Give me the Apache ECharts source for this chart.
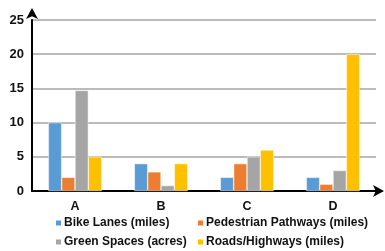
<!DOCTYPE html>
<html><head><meta charset="utf-8">
<script src="https://cdn.jsdelivr.net/npm/echarts@6/dist/echarts.min.js"></script>
<style>html,body{margin:0;padding:0;background:#fff}#c{width:385px;height:251px}</style>
</head><body><div id="c"></div>
<script>
const categories = ['A','B','C','D'];
const seriesNames = ['Bike Lanes (miles)','Pedestrian Pathways (miles)','Green Spaces (acres)','Roads/Highways (miles)'];
const bikeLanes = [10, 4, 2, 2];
const pedestrian = [2, 2.8, 4, 1];
const greenSpaces = [14.7, 0.8, 5, 3];
const roads = [5, 4, 6, 20];
const colors = ['#5B9BD5','#ED7D31','#A5A5A5','#FFC000'];
const values = [bikeLanes, pedestrian, greenSpaces, roads];

const font = 'Liberation Sans, Arial, sans-serif';
const legendPos = [[54,217],[196,217],[54,236],[196,236]];
const chart = echarts.init(document.getElementById('c'), null, {renderer:'canvas'});
chart.setOption({
  animation:false,
  grid:{left:32,right:9,top:20,bottom:60,containLabel:false},
  legend: seriesNames.map((n,i)=>({
    data:[n], left:legendPos[i][0], top:legendPos[i][1], padding:0, itemWidth:7, itemHeight:7, itemGap:2,
    icon:'rect', textStyle:{fontFamily:font, fontWeight:'bold', fontSize:12, color:'#111', padding:[0,0,0,-3]}
  })),
  xAxis:{type:'category', data:categories,
    axisLine:{lineStyle:{color:'#000',width:2}, symbol:['none','arrow'], symbolSize:[9,11], symbolOffset:[0,8]},
    axisTick:{show:false},
    axisLabel:{fontFamily:font, fontWeight:'bold', fontSize:12.5, color:'#111', margin:9}
  },
  yAxis:{type:'value', min:0, max:25, interval:5,
    axisLine:{show:true, lineStyle:{color:'#000',width:2}, symbol:['none','arrow'], symbolSize:[9,11], symbolOffset:[0,12]},
    splitLine:{lineStyle:{color:'#A6A6A6',width:1.5}},
    axisLabel:{fontFamily:font, fontWeight:'bold', fontSize:13, color:'#111', margin:8}
  },
  series: seriesNames.map((n,i)=>({
    name:n, type:'bar', data:values[i], barGap:'0%', barCategoryGap:'38%',
    itemStyle:{color:colors[i], borderColor:'#fff', borderWidth:0.5}
  }))
});
</script></body></html>
